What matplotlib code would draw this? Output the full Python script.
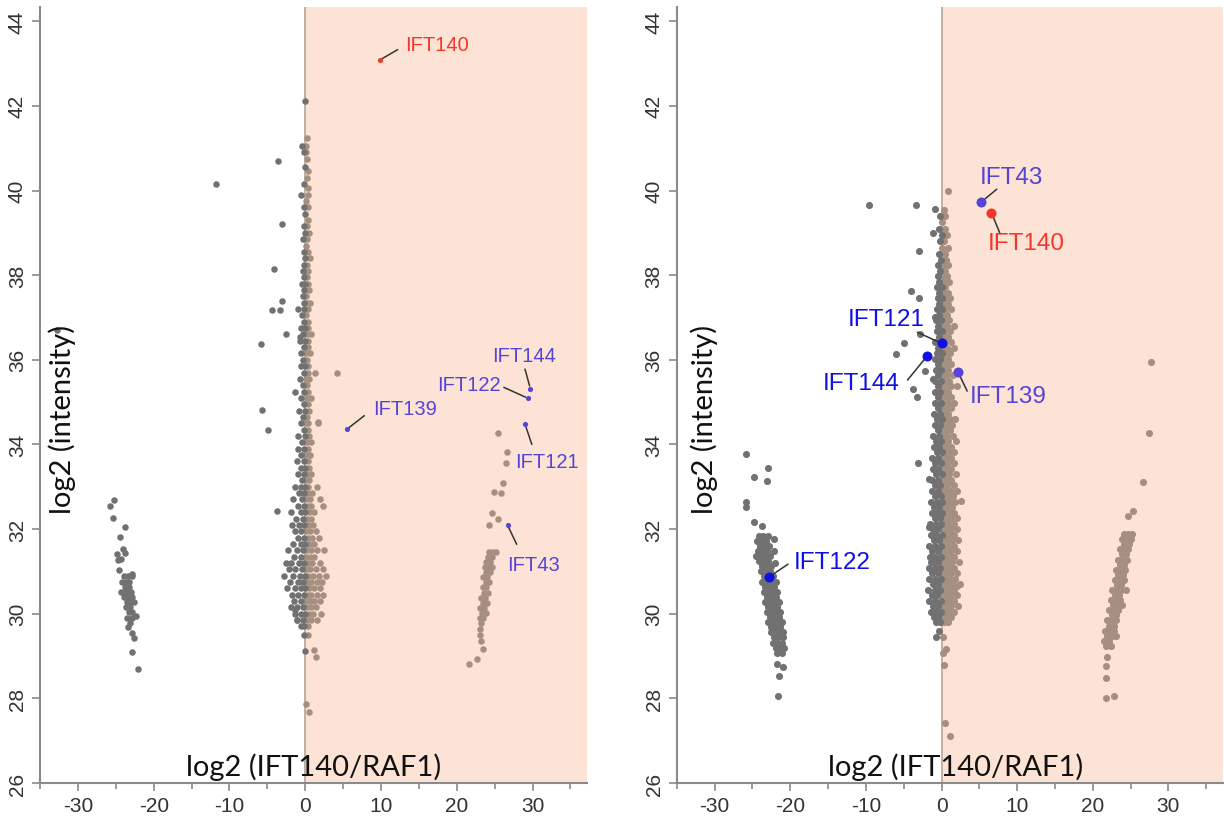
import numpy as np
import matplotlib.pyplot as plt

# ---------------- data: left panel ----------------
# dense band near zero, rows of (log2 intensity, [log2 ratios])
left_band = [
    (41.25, [0.2]), (41.05, [-0.4, 0.15]), (40.9, [-0.1, 0.1]), (40.75, [0.2]),
    (40.55, [0.0]), (40.45, [0.3]), (40.3, [0.25]), (40.15, [-0.1]), (40.05, [0.35]),
    (39.9, [-0.5, 0.3]), (39.75, [0.1]), (39.6, [-0.1, 0.4]), (39.45, [0.0]),
    (39.3, [0.3]), (39.15, [-0.2, 0.2]), (39.0, [0.0, 0.5]), (38.85, [-0.3, 0.2]),
    (38.7, [0.1]), (38.55, [-0.2, 0.3]), (38.4, [0.0, 0.6]), (38.25, [-0.1, 0.2]),
    (38.1, [-0.3, 0.1, 0.4]), (37.95, [-0.2, 0.2]), (37.8, [-0.4, 0.0, 0.3]),
    (37.65, [-0.1, 0.5]), (37.5, [-0.3, 0.1]), (37.35, [-0.2, 0.2, 0.6]),
    (37.2, [-0.9, -0.1, 0.3]), (37.05, [-0.4, 0.1]), (36.9, [-0.2, 0.4]),
    (36.75, [-0.6, 0.0, 0.3]), (36.6, [-0.3, 0.2, 0.7]), (36.45, [-0.7, 0.0, 0.3]),
    (36.3, [-0.2, 0.4]), (36.15, [-0.5, 0.1, 0.6]), (36.0, [-0.3, 0.2]),
    (35.85, [-0.6, 0.0, 0.4]), (35.7, [-0.2, 0.3, 1.3]), (35.55, [-0.7, 0.1, 0.5]),
    (35.4, [-0.3, 0.2]), (35.25, [-1.4, -0.1, 0.4]), (35.1, [-0.5, 0.2, 0.7]),
    (34.95, [-0.2, 0.3]), (34.8, [-0.8, 0.0, 0.5]), (34.65, [-0.3, 0.2]),
    (34.5, [-0.6, 0.1, 0.4, 1.7]), (34.35, [-0.2, 0.3]), (34.2, [-0.9, 0.0, 0.5]),
    (34.05, [-0.4, 0.2, 0.7]), (33.9, [-1.0, -0.1, 0.3]), (33.75, [-0.5, 0.1, 0.6]),
    (33.6, [-1.1, -0.2, 0.3]), (33.45, [-0.6, 0.0, 0.5]), (33.3, [-0.9, -0.2, 0.2, 0.8]),
    (33.15, [-0.4, 0.1, 0.5]), (33.0, [-1.3, -0.5, 0.0, 0.4, 1.5]),
    (32.85, [-0.8, -0.2, 0.3, 0.9]), (32.7, [-1.6, -0.4, 0.1, 0.6, 1.9]),
    (32.55, [-1.0, -0.2, 0.3, 0.8, 2.3]), (32.4, [-1.9, -0.6, 0.0, 0.5, 1.2]),
    (32.25, [-1.2, -0.3, 0.2, 0.7]), (32.1, [-1.8, -0.8, -0.1, 0.4, 1.0]),
    (31.95, [-1.4, -0.5, 0.1, 0.6, 1.4]), (31.8, [-1.0, -0.2, 0.3, 0.9, 1.8]),
    (31.65, [-1.6, -0.6, 0.0, 0.5, 1.2]), (31.5, [-2.3, -1.1, -0.3, 0.2, 0.8, 1.6, 2.5]),
    (31.35, [-1.5, -0.5, 0.1, 0.6, 1.1]), (31.2, [-2.6, -1.9, -0.8, -0.2, 0.3, 0.9, 1.9]),
    (31.05, [-2.2, -1.3, -0.4, 0.1, 0.6, 1.4, 2.3]),
    (30.9, [-2.8, -1.6, -0.7, 0.0, 0.4, 1.0, 1.8, 2.8]),
    (30.75, [-2.0, -1.0, -0.3, 0.2, 0.7, 1.5, 2.2]),
    (30.6, [-2.4, -1.4, -0.6, 0.0, 0.5, 1.1, 1.9]),
    (30.45, [-1.8, -0.9, -0.2, 0.3, 0.8, 1.5, 2.4]),
    (30.3, [-1.5, -0.6, 0.1, 0.6, 1.2, 1.9]), (30.15, [-1.9, -1.1, -0.3, 0.2, 0.8, 1.4]),
    (30.0, [-1.3, -0.5, 0.0, 0.5, 1.0, 2.1]), (29.85, [-1.1, -0.3, 0.2, 0.7, 1.6]),
    (29.7, [-0.6, -0.1, 0.3]), (29.5, [-0.1, 0.4]),
]
left_scatter = [
    (-11.8, 40.15), (-3.6, 40.69), (-3.1, 39.22), (-4.1, 38.14), (-3.1, 37.39),
    (-4.4, 37.18), (-3.35, 37.18), (-2.6, 36.62), (-5.9, 36.37), (-32.7, 36.7),
    (-0.7, 36.53), (-5.7, 34.82), (-4.9, 34.34), (-3.7, 32.43), (-1.4, 30.09),
    (-1.1, 29.86), (4.2, 35.68), (1.7, 34.53), (0.0, 42.12), (0.0, 29.13),
    (1.1, 29.15), (1.46, 28.97), (0.1, 27.87), (0.45, 27.68),
    # cluster near -23
    (-25.8, 32.55), (-25.2, 32.68), (-25.4, 32.27), (-23.8, 32.06), (-24.5, 31.82),
    (-24.1, 31.54), (-24.9, 31.41), (-23.8, 31.43), (-24.7, 31.27), (-24.3, 31.3),
    (-24.6, 31.03), (-22.8, 30.95), (-22.4, 29.95), (-23.4, 29.68), (-22.6, 29.42),
    (-22.8, 29.1), (-22.1, 28.69), (-22.9, 29.55),
    # cluster near +24
    (25.4, 34.26), (26.6, 33.83), (26.5, 33.56), (26.1, 33.09), (24.9, 32.87),
    (25.8, 32.85), (24.7, 32.37), (25.5, 32.24), (24.3, 32.09), (23.0, 29.63),
    (23.0, 29.5), (23.2, 29.35), (23.4, 29.16), (22.7, 28.93), (21.6, 28.81),
]
left_neg_cluster = [
    (30.88, [-23.9, -23.4, -22.9]), (30.76, [-24.2, -23.7, -23.2]), (30.64, [-23.8, -23.3]),
    (30.52, [-24.3, -23.6, -23.0]), (30.4, [-23.9, -23.4, -22.8]),
    (30.28, [-23.5, -23.0, -22.6]), (30.16, [-23.7, -23.1]), (30.04, [-23.3, -22.8]),
    (29.9, [-23.5, -22.9]), (29.78, [-23.1]),
]
left_pos_cluster = [
    (31.46, [24.3, 24.8, 25.2]), (31.34, [24.1, 24.6]), (31.22, [23.9, 24.4]),
    (31.1, [23.7, 24.2, 24.7]), (30.98, [23.9, 24.4]), (30.86, [23.5, 24.0]),
    (30.74, [23.8, 24.3]), (30.62, [23.4, 23.9]), (30.5, [23.6, 24.1]),
    (30.38, [23.2, 23.7]), (30.26, [23.5, 24.0]), (30.14, [23.1, 23.6]),
    (30.02, [23.3, 23.8]), (29.9, [23.0, 23.5]), (29.78, [23.2]),
]
left_ift = {
    'IFT140': (9.8, 43.08), 'IFT144': (29.7, 35.32), 'IFT122': (29.4, 35.09),
    'IFT139': (5.5, 34.36), 'IFT121': (29.0, 34.48), 'IFT43': (26.7, 32.09),
}

# ---------------- data: right panel ----------------
right_band = [
    (39.55, [0.3]), (39.4, [-0.2, 0.5]), (39.25, [0.1]), (39.1, [-0.3, 0.4]),
    (38.95, [0.0, 0.7]), (38.8, [-0.2, 0.3]), (38.65, [0.1, 0.8]), (38.5, [-0.3, 0.4]),
    (38.37, [-0.1, 0.6]), (38.24, [-0.4, 0.2, 0.9]), (38.11, [-0.2, 0.4]),
    (37.98, [-0.5, 0.1, 0.7]), (37.85, [-0.3, 0.3, 1.0]), (37.72, [-0.6, 0.0, 0.5]),
    (37.59, [-0.3, 0.2, 0.8]), (37.46, [-0.5, 0.0, 0.5, 1.1]), (37.33, [-0.3, 0.3, 0.8]),
    (37.2, [-0.6, 0.0, 0.5, 1.3]), (37.07, [-0.3, 0.2, 0.7]),
    (36.94, [-0.7, -0.1, 0.4, 1.0]), (36.81, [-0.4, 0.2, 0.7, 1.6]),
    (36.68, [-0.6, 0.0, 0.5, 1.1]), (36.55, [-0.3, 0.3, 0.8]),
    (36.42, [-0.8, -0.1, 0.5, 1.2]), (36.29, [-0.4, 0.2, 0.7, 1.7]),
    (36.16, [-0.6, 0.0, 0.5, 1.1]), (36.03, [-0.9, -0.2, 0.3, 0.8]),
    (35.9, [-0.5, 0.1, 0.6, 1.3]), (35.77, [-0.7, -0.1, 0.4, 0.9]),
    (35.64, [-0.4, 0.2, 0.7, 1.5]), (35.51, [-0.8, -0.1, 0.4, 1.0]),
    (35.38, [-0.5, 0.1, 0.6, 1.2, 2.0]), (35.25, [-0.9, -0.2, 0.3, 0.8]),
    (35.12, [-0.5, 0.1, 0.6, 1.3]), (34.99, [-0.8, -0.1, 0.4, 0.9, 1.7]),
    (34.86, [-0.4, 0.2, 0.7, 1.2]), (34.73, [-1.0, -0.2, 0.3, 0.8]),
    (34.6, [-0.6, 0.0, 0.5, 1.1, 1.8]), (34.47, [-0.9, -0.2, 0.3, 0.8, 1.4]),
    (34.34, [-0.5, 0.1, 0.6, 1.1]), (34.21, [-1.1, -0.3, 0.2, 0.7, 1.5]),
    (34.08, [-0.7, -0.1, 0.4, 0.9, 1.9]), (33.95, [-1.0, -0.3, 0.2, 0.7, 1.3]),
    (33.82, [-0.6, 0.0, 0.5, 1.0, 1.6]), (33.69, [-1.2, -0.4, 0.1, 0.6, 1.2]),
    (33.56, [-0.8, -0.1, 0.4, 0.9, 1.7]), (33.43, [-1.1, -0.4, 0.2, 0.7, 1.3]),
    (33.3, [-0.7, 0.0, 0.5, 1.0, 1.9]), (33.17, [-1.3, -0.5, 0.1, 0.6, 1.3]),
    (33.04, [-0.9, -0.2, 0.3, 0.8, 1.6]), (32.91, [-1.2, -0.5, 0.1, 0.6, 1.2, 2.0]),
    (32.78, [-0.8, -0.1, 0.4, 0.9, 1.5]), (32.65, [-1.4, -0.6, 0.0, 0.5, 1.1, 1.8]),
    (32.52, [-1.0, -0.3, 0.2, 0.7, 1.4]), (32.39, [-1.3, -0.6, 0.0, 0.5, 1.0, 1.7]),
    (32.26, [-0.9, -0.2, 0.3, 0.8, 1.4, 2.1]), (32.13, [-1.5, -0.7, -0.1, 0.4, 1.0, 1.6]),
    (32.0, [-1.1, -0.4, 0.2, 0.7, 1.3, 2.0]), (31.87, [-1.4, -0.7, 0.0, 0.5, 1.1, 1.7]),
    (31.74, [-1.0, -0.3, 0.3, 0.8, 1.4, 2.2]), (31.61, [-1.6, -0.8, -0.1, 0.4, 1.0, 1.6]),
    (31.48, [-1.2, -0.5, 0.2, 0.7, 1.3, 2.0]), (31.35, [-1.5, -0.8, -0.1, 0.5, 1.1, 1.7]),
    (31.22, [-1.1, -0.4, 0.2, 0.8, 1.4, 2.3]), (31.09, [-1.7, -0.9, -0.2, 0.4, 1.0, 1.6]),
    (30.96, [-1.2, -0.5, 0.1, 0.7, 1.3, 2.0]), (30.83, [-1.6, -0.8, -0.1, 0.5, 1.1, 1.8]),
    (30.7, [-1.1, -0.4, 0.2, 0.8, 1.4, 2.4]), (30.57, [-1.8, -0.9, -0.2, 0.4, 1.0, 1.7]),
    (30.44, [-1.3, -0.6, 0.1, 0.6, 1.2, 2.0]), (30.31, [-1.6, -0.8, -0.1, 0.4, 1.0, 1.6]),
    (30.18, [-1.1, -0.4, 0.2, 0.7, 1.3, 2.2]), (30.05, [-1.4, -0.7, -0.1, 0.4, 1.0, 1.6]),
    (29.92, [-1.0, -0.4, 0.1, 0.6, 1.2]), (29.8, [-0.7, -0.2, 0.3, 0.8]),
]
right_scatter = [
    (-9.6, 39.65), (-3.4, 39.65), (-0.8, 39.56), (0.9, 39.98), (-1.1, 38.99),
    (-3.0, 38.57), (-4.0, 37.62), (-3.0, 37.46), (-0.9, 37.0), (-2.8, 36.62),
    (-5.0, 36.39), (-6.0, 36.14), (-2.2, 35.74), (-1.1, 35.54), (-3.8, 35.31),
    (-3.2, 35.11), (-3.1, 33.57), (-1.6, 33.18), (2.6, 32.67), (-1.6, 32.05),
    (-1.4, 31.23), (2.0, 30.65), (-0.3, 29.6), (-0.7, 29.44), (0.2, 29.44),
    (0.6, 29.16), (0.2, 29.07), (0.3, 28.79), (0.5, 27.42), (1.1, 27.12),
    # cluster near -23
    (-25.9, 33.77), (-24.8, 33.23), (-23.0, 33.44), (-23.1, 33.14), (-25.9, 32.63),
    (-25.8, 32.53), (-24.8, 32.16), (-23.7, 32.08), (-22.1, 31.76), (-22.2, 31.49),
    (-22.0, 31.21), (-24.0, 31.57), (-24.6, 31.37), (-21.8, 28.81), (-21.0, 28.73),
    (-21.5, 28.53), (-21.6, 28.06),
    # cluster near +23
    (27.7, 35.95), (27.4, 34.26), (26.6, 33.12), (25.3, 32.43), (24.7, 32.31),
    (21.9, 28.97), (21.7, 28.77), (21.8, 28.47), (21.7, 28.02), (22.8, 28.06),
]
right_neg_cluster = [
    (31.84, [-24.2, -23.6, -23.0]), (31.72, [-24.4, -23.8, -23.2]),
    (31.6, [-24.0, -23.4, -22.8]), (31.48, [-24.3, -23.7, -23.1]),
    (31.36, [-23.9, -23.3, -22.7]), (31.24, [-24.1, -23.5, -22.9]),
    (31.12, [-23.7, -23.1, -22.5]), (31.0, [-23.9, -23.3, -22.7]),
    (30.88, [-23.5, -22.9, -22.3]), (30.76, [-23.7, -23.1, -22.5, -21.9]),
    (30.64, [-23.3, -22.7, -22.1]), (30.52, [-23.5, -22.9, -22.3, -21.7]),
    (30.4, [-23.1, -22.5, -21.9]), (30.28, [-23.3, -22.7, -22.1, -21.5]),
    (30.16, [-22.9, -22.3, -21.7]), (30.04, [-23.1, -22.5, -21.9, -21.3]),
    (29.92, [-22.7, -22.1, -21.5]), (29.8, [-22.9, -22.3, -21.7, -21.1]),
    (29.68, [-22.5, -21.9, -21.3]), (29.56, [-22.6, -22.0, -21.4, -20.9]),
    (29.44, [-22.2, -21.6, -21.0]), (29.32, [-22.3, -21.7, -21.1]),
    (29.2, [-21.9, -21.3, -20.8]), (29.08, [-21.7, -21.1]),
]
right_pos_cluster = [
    (31.88, [24.1, 24.7, 25.2]), (31.76, [23.9, 24.5, 25.1]), (31.64, [24.2, 24.8]),
    (31.52, [23.6, 24.2, 24.7]), (31.4, [23.9, 24.4]), (31.28, [23.3, 23.9, 24.5]),
    (31.16, [23.6, 24.2]), (31.04, [23.1, 23.7, 24.3]), (30.92, [23.4, 24.0]),
    (30.8, [22.9, 23.5, 24.1]), (30.68, [23.2, 23.8]), (30.56, [22.6, 23.2, 23.8, 24.4]),
    (30.44, [22.9, 23.5]), (30.32, [22.4, 23.0, 23.6]), (30.2, [22.7, 23.3, 23.9]),
    (30.08, [22.2, 22.8, 23.4]), (29.96, [22.5, 23.1]), (29.84, [21.9, 22.5, 23.1]),
    (29.72, [22.2, 22.8]), (29.6, [21.6, 22.2, 22.8]), (29.48, [21.9, 22.5, 23.1]),
    (29.36, [21.5, 22.1]), (29.24, [21.8, 22.4]),
]
right_ift = {
    'IFT43': (5.2, 39.72), 'IFT140': (6.6, 39.48), 'IFT121': (0.0, 36.39),
    'IFT144': (-1.9, 36.09), 'IFT139': (2.15, 35.72), 'IFT122': (-22.8, 30.87),
}

# ---------------- styling / layout ----------------
GRAY = '#717171'
TAN = '#a48f80'
SHADE = '#fde3d5'
PURPLE = '#5544d6'
BLUE = '#1010e6'
RED = '#f2362a'

# label layout: name -> (text x, text y, ha, line end x, line end y, colour)
left_lab = {
    'IFT140': (13.2, 43.46, 'left', 12.2, 43.33, RED),
    'IFT144': (28.9, 36.1, 'center', 29.0, 35.78, PURPLE),
    'IFT122': (25.8, 35.42, 'right', 26.2, 35.35, PURPLE),
    'IFT139': (8.9, 34.85, 'left', 7.8, 34.68, PURPLE),
    'IFT121': (27.7, 33.6, 'left', 29.9, 34.0, PURPLE),
    'IFT43': (26.6, 31.17, 'left', 27.9, 31.64, PURPLE),
}
right_lab = {
    'IFT43': (5.0, 40.33, 'left', 7.3, 40.03, PURPLE),
    'IFT140': (6.1, 38.75, 'left', 7.7, 39.0, RED),
    'IFT121': (-2.2, 36.96, 'right', -3.2, 36.65, BLUE),
    'IFT144': (-5.5, 35.45, 'right', -4.5, 35.52, BLUE),
    'IFT139': (3.7, 35.14, 'left', 3.4, 35.26, PURPLE),
    'IFT122': (-19.6, 31.22, 'left', -20.3, 31.17, BLUE),
}


def flatten(rows):
    xs, ys = [], []
    for y, row in rows:
        for x in row:
            xs.append(x)
            ys.append(y)
    return xs, ys


def collect(band, scatter, neg, pos):
    xs, ys = [], []
    for rows in (band, neg, pos):
        a, b = flatten(rows)
        xs += a
        ys += b
    xs += [p[0] for p in scatter]
    ys += [p[1] for p in scatter]
    return np.array(xs), np.array(ys)


plt.rcParams['font.family'] = ['Liberation Sans', 'DejaVu Sans']
plt.rcParams['axes.unicode_minus'] = False

fig = plt.figure(figsize=(12.24, 8.2), dpi=100)
ax1 = fig.add_axes([0.0327, 0.0439, 0.447, 0.946])
ax2 = fig.add_axes([0.553, 0.0439, 0.446, 0.946])

panels = [
    (ax1, collect(left_band, left_scatter, left_neg_cluster, left_pos_cluster),
     left_ift, left_lab, 22, 14, 14.5, 0.50),
    (ax2, collect(right_band, right_scatter, right_neg_cluster, right_pos_cluster),
     right_ift, right_lab, 26, 52, 17.5, 0.51),
]

for ax, (xs, ys), ift, lab, ms, ims, fs, xlab_x in panels:
    ax.set_xlim(-35, 37.2)
    ax.set_ylim(26, 44.33)
    ax.axvspan(0, 40, color=SHADE, zorder=0, lw=0)
    ax.axvline(0, color='#b5a696', lw=1.2, zorder=1)

    neg = xs <= 0
    ax.scatter(xs[~neg], ys[~neg], s=ms, color=TAN, lw=0, zorder=2)
    ax.scatter(xs[neg], ys[neg], s=ms, color=GRAY, lw=0, zorder=3)

    for name, (px, py) in ift.items():
        tx, ty, ha, lx, ly, col = lab[name]
        ax.scatter([px], [py], s=ims, color=col, lw=0, zorder=5)
        ax.annotate('', xy=(px, py), xytext=(lx, ly),
                    arrowprops=dict(arrowstyle='-', color='#333333', lw=1.1,
                                    shrinkA=0, shrinkB=2))
        ax.text(tx, ty, name, color=col, fontsize=fs, ha=ha, va='center', zorder=6)

    for side in ('top', 'right'):
        ax.spines[side].set_visible(False)
    for side in ('left', 'bottom'):
        ax.spines[side].set_color('#8a8a8a')
        ax.spines[side].set_linewidth(1.5)

    ax.set_yticks(np.arange(26, 45, 2))
    ax.set_xticks([-30, -20, -10, 0, 10, 20, 30])
    ax.set_xticks([-35, -25, -15, -5, 5, 15, 25, 35], minor=True)
    ax.tick_params(axis='both', which='both', colors='#8a8a8a', labelcolor='#333333',
                   labelsize=15, width=1.2)
    ax.tick_params(axis='both', which='major', length=6)
    ax.tick_params(axis='x', which='minor', length=4)
    for t in ax.get_yticklabels():
        t.set_rotation(90)
        t.set_va('center')

    ax.text(0.04 if ax is ax1 else 0.05, 0.47, 'log2 (intensity)', transform=ax.transAxes,
            rotation=90, ha='center', va='center', fontsize=21,
            family=['Lato', 'DejaVu Sans'], color='#111111')
    ax.text(xlab_x, 0.022, 'log2 (IFT140/RAF1)', transform=ax.transAxes,
            ha='center', va='center', fontsize=21,
            family=['Lato', 'DejaVu Sans'], color='#111111')

fig.savefig('out.png', dpi=100)
